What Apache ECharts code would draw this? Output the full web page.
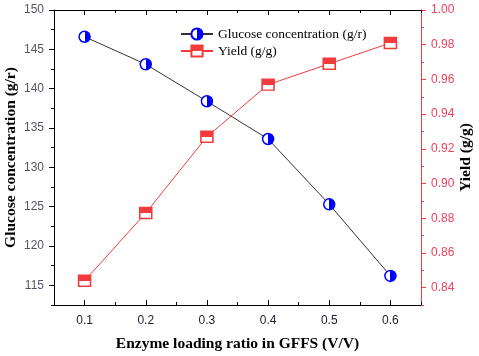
<!DOCTYPE html>
<html>
<head>
<meta charset="utf-8">
<script src="https://cdn.jsdelivr.net/npm/echarts@6/dist/echarts.min.js"></script>
<style>
  html, body { margin: 0; padding: 0; background: #fff; }
  #chart { width: 479px; height: 356px; }
</style>
</head>
<body>
<div id="chart"></div>
<script>
// 数据
const ratio = [0.1, 0.2, 0.3, 0.4, 0.5, 0.6]
const glucose = [146.6, 143.1, 138.4, 133.6, 125.3, 116.2]
const yieldVals = [0.844, 0.883, 0.927, 0.957, 0.969, 0.981]

// 刻度
const xTicks = [0.1, 0.2, 0.3, 0.4, 0.5, 0.6]
const leftTicks = [115, 120, 125, 130, 135, 140, 145, 150]
const rightTicks = [0.84, 0.86, 0.88, 0.90, 0.92, 0.94, 0.96, 0.98, 1.00]

const chart = echarts.init(document.getElementById('chart'), null, { renderer: 'canvas' })

const SERIF = '"Liberation Serif", "Times New Roman", serif'
const SANS = '"Liberation Sans", Arial, sans-serif'
const BLUE = '#0000ff'
const RED = '#f03c3c'

// 半填充圆 / 半填充方块
const halfCircle = new echarts.graphic.LinearGradient(0, 0, 1, 0, [
  { offset: 0, color: '#fff' }, { offset: 0.5, color: '#fff' },
  { offset: 0.5, color: BLUE }, { offset: 1, color: BLUE }
])
const halfSquare = new echarts.graphic.LinearGradient(0, 0, 0, 1, [
  { offset: 0, color: RED }, { offset: 0.5, color: RED },
  { offset: 0.5, color: '#fff' }, { offset: 1, color: '#fff' }
])

const xRange = { type: 'value', min: 0.05, max: 0.65 }
const noGrid = { splitLine: { show: false } }
const nameStyle = { fontFamily: SERIF, fontSize: 15.5, fontWeight: 'bold', color: '#000' }

chart.setOption({
  animation: false,
  backgroundColor: '#fff',
  // v6 默认会把轴标签挤进容器, 这里关掉, 网格位置固定
  grid: { left: 54, right: 58, top: 10, bottom: 51, containLabel: false, outerBoundsMode: 'none' },
  legend: {
    orient: 'vertical',
    left: 180,
    top: 27,
    padding: 0,
    itemWidth: 32,
    itemHeight: 14,
    itemGap: 3,
    textStyle: { fontFamily: SERIF, fontSize: 13.5, color: '#000', lineHeight: 14 },
    data: ['Glucose concentration (g/r)', 'Yield (g/g)']
  },
  xAxis: [
    {
      ...xRange, position: 'bottom',
      name: 'Enzyme loading ratio in GFFS (V/V)',
      nameLocation: 'middle', nameGap: 31, nameMoveOverlap: false,
      nameTextStyle: nameStyle,
      axisLine: { lineStyle: { color: '#000', width: 1 } },
      axisTick: { inside: true, length: 5, customValues: xTicks, lineStyle: { color: '#000' } },
      axisLabel: { customValues: xTicks, margin: 10, fontFamily: SANS, fontSize: 12, color: '#1b1b2f',
        formatter: v => v.toFixed(1) },
      ...noGrid
    },
    {
      ...xRange, position: 'bottom', interval: 0.05,
      axisLine: { show: false },
      axisTick: { inside: true, length: 3, lineStyle: { color: '#000' } },
      axisLabel: { show: false },
      ...noGrid
    },
    {
      ...xRange, position: 'top',
      axisLine: { lineStyle: { color: '#000', width: 1 } },
      axisTick: { inside: true, length: 5, customValues: xTicks, lineStyle: { color: '#000' } },
      axisLabel: { show: false },
      ...noGrid
    },
    {
      ...xRange, position: 'top', interval: 0.05,
      axisLine: { show: false },
      axisTick: { inside: true, length: 3, lineStyle: { color: '#000' } },
      axisLabel: { show: false },
      ...noGrid
    }
  ],
  yAxis: [
    {
      type: 'value', position: 'left', min: 112.5, max: 150,
      name: 'Glucose concentration (g/r)',
      nameLocation: 'middle', nameGap: 35, nameRotate: 90, nameMoveOverlap: false,
      nameTextStyle: nameStyle,
      axisLine: { show: true, lineStyle: { color: '#000', width: 1 } },
      axisTick: { show: true, length: 5, customValues: leftTicks, lineStyle: { color: '#000' } },
      axisLabel: { customValues: leftTicks, margin: 10, fontFamily: SANS, fontSize: 12, color: '#555566' },
      ...noGrid
    },
    {
      type: 'value', position: 'right', min: 0.83, max: 1.0,
      name: 'Yield (g/g)',
      nameLocation: 'middle', nameGap: 37, nameRotate: 90, nameMoveOverlap: false,
      nameTextStyle: nameStyle,
      axisLine: { show: true, lineStyle: { color: RED, width: 1 } },
      axisTick: { show: true, length: 5, customValues: rightTicks, lineStyle: { color: RED } },
      axisLabel: { customValues: rightTicks, margin: 10, fontFamily: SANS, fontSize: 12, color: '#f04060',
        formatter: v => v.toFixed(2) },
      ...noGrid
    },
    {
      type: 'value', position: 'left', min: 112.5, max: 150, interval: 2.5,
      axisLine: { show: false },
      axisTick: { show: true, length: 3, lineStyle: { color: '#000' } },
      axisLabel: { show: false },
      ...noGrid
    },
    {
      type: 'value', position: 'right', min: 0.83, max: 1.0, interval: 0.01,
      axisLine: { show: false },
      axisTick: { show: true, length: 3, lineStyle: { color: RED } },
      axisLabel: { show: false },
      ...noGrid
    }
  ],
  series: [
    {
      name: 'Glucose concentration (g/r)',
      type: 'line',
      xAxisIndex: 0, yAxisIndex: 0,
      data: ratio.map((x, i) => [x, glucose[i]]),
      symbol: 'circle', symbolSize: 11,
      lineStyle: { color: '#333', width: 1 },
      itemStyle: { color: halfCircle, borderColor: BLUE, borderWidth: 1.5 }
    },
    {
      name: 'Yield (g/g)',
      type: 'line',
      xAxisIndex: 0, yAxisIndex: 1,
      data: ratio.map((x, i) => [x, yieldVals[i]]),
      symbol: 'rect', symbolSize: [12, 11],
      lineStyle: { color: RED, width: 1 },
      itemStyle: { color: halfSquare, borderColor: RED, borderWidth: 1.5 }
    }
  ]
})
</script>
</body>
</html>
